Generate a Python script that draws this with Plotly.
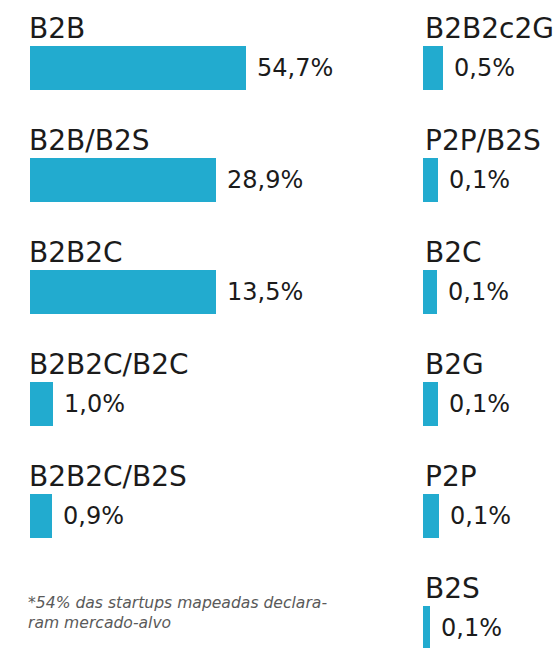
import plotly.graph_objects as go

# ---- data ----
left_labels = ["B2B", "B2B/B2S", "B2B2C", "B2B2C/B2C", "B2B2C/B2S"]
left_values = ["54,7%", "28,9%", "13,5%", "1,0%", "0,9%"]
# bar lengths as drawn in the infographic (relative units, longest bar = 100)
left_drawn = [100, 86, 86, 10.6, 10.2]

right_labels = ["B2B2c2G", "P2P/B2S", "B2C", "B2G", "P2P", "B2S"]
right_values = ["0,5%", "0,1%", "0,1%", "0,1%", "0,1%", "0,1%"]
right_drawn = [9.3, 6.9, 6.5, 6.9, 7.4, 3.2]

footnote = "*54% das startups mapeadas declara-<br>ram mercado-alvo"

# ---- styling ----
W, H = 559, 648
BAR = "#22abcf"
TXT = "#1b1b1b"
FONT = "DejaVu Sans"
ROW_PX = 112.0
FIRST_PX = 68.0
UNIT_PX = 2.16  # pixels per drawn unit

y_top = -FIRST_PX / ROW_PX
y_bot = (H - FIRST_PX) / ROW_PX

left_x0 = 30
right_x0 = 423

fig = go.Figure()
fig.add_trace(go.Bar(
    orientation="h", x=left_drawn, y=list(range(len(left_drawn))),
    width=0.40, marker=dict(color=BAR, line=dict(width=0)),
    xaxis="x", yaxis="y", hoverinfo="skip", showlegend=False))
fig.add_trace(go.Bar(
    orientation="h", x=right_drawn, y=list(range(len(right_drawn))),
    width=0.40, marker=dict(color=BAR, line=dict(width=0)),
    xaxis="x2", yaxis="y2", hoverinfo="skip", showlegend=False))

annotations = []
for cols in [("x", "y", left_labels, left_values, left_drawn, -3),
             ("x2", "y2", right_labels, right_values, right_drawn, 0)]:
    xr, yr, labs, vals, drawn, lshift = cols
    for i, (lab, val, d) in enumerate(zip(labs, vals, drawn)):
        annotations.append(dict(
            xref=xr, yref=yr, x=0, y=i - 0.2, text=lab, showarrow=False,
            xanchor="left", yanchor="bottom", xshift=lshift, yshift=-1,
            font=dict(family=FONT, size=28, color=TXT)))
        annotations.append(dict(
            xref=xr, yref=yr, x=d, y=i, text=val, showarrow=False,
            xanchor="left", yanchor="middle", xshift=9, yshift=0,
            font=dict(family=FONT, size=24, color=TXT)))

annotations.append(dict(
    xref="paper", yref="paper", x=26 / W, y=1 - 592 / H, text=footnote,
    showarrow=False, xanchor="left", yanchor="top", align="left",
    font=dict(family=FONT, size=15.6, color="#5a5a5a", style="italic")))

axis_common = dict(showgrid=False, zeroline=False, showticklabels=False,
                   showline=False, ticks="", fixedrange=True)

fig.update_layout(
    width=W, height=H, margin=dict(l=0, r=0, t=0, b=0),
    paper_bgcolor="white", plot_bgcolor="white",
    bargap=0,
    xaxis=dict(domain=[left_x0 / W, (left_x0 + 100 * UNIT_PX) / W],
               range=[0, 100], anchor="y", **axis_common),
    xaxis2=dict(domain=[right_x0 / W, 1],
                range=[0, (W - right_x0) / UNIT_PX], anchor="y2", **axis_common),
    yaxis=dict(domain=[0, 1], range=[y_bot, y_top], anchor="x", **axis_common),
    yaxis2=dict(domain=[0, 1], range=[y_bot, y_top], anchor="x2", **axis_common),
    annotations=annotations,
)

fig.write_html(
    "out.html",
    config={"displayModeBar": False},
    post_script="document.body.style.margin='0';document.body.style.overflow='hidden';",
)
